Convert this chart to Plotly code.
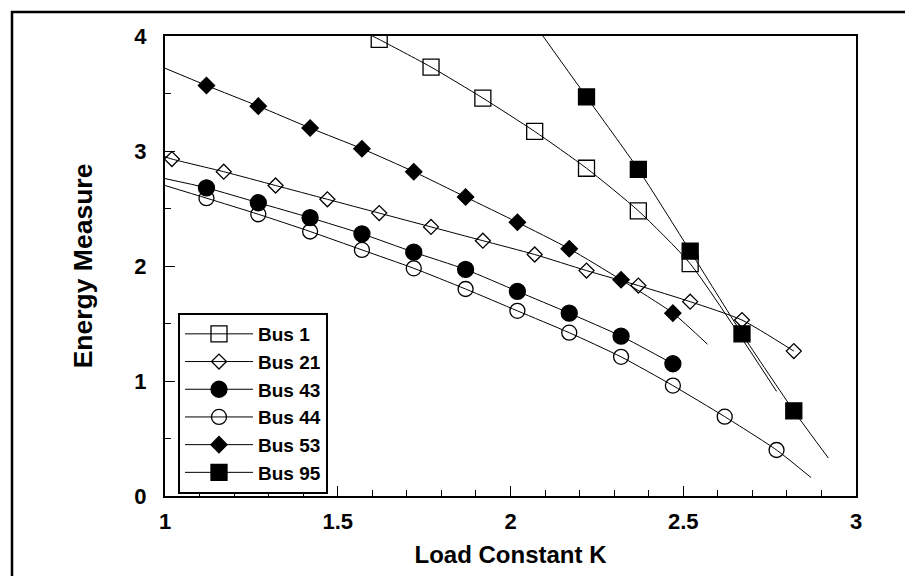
import plotly.graph_objects as go

# ---- data ----
bus1_k = [1.62, 1.77, 1.92, 2.07, 2.22, 2.37, 2.52]
bus1_e = [3.97, 3.73, 3.46, 3.17, 2.85, 2.48, 2.02]
bus1_curve_start = (1.60, 4.00)
bus1_curve_end = (2.77, 0.91)

bus21_k = [1.02, 1.17, 1.32, 1.47, 1.62, 1.77, 1.92, 2.07, 2.22, 2.37, 2.52, 2.67, 2.82]
bus21_e = [2.93, 2.82, 2.70, 2.58, 2.46, 2.34, 2.22, 2.10, 1.96, 1.83, 1.69, 1.53, 1.26]
bus21_curve_start = (1.00, 2.95)
bus21_curve_end = None

bus43_k = [1.12, 1.27, 1.42, 1.57, 1.72, 1.87, 2.02, 2.17, 2.32, 2.47]
bus43_e = [2.68, 2.55, 2.42, 2.28, 2.12, 1.97, 1.78, 1.59, 1.39, 1.15]
bus43_curve_start = (1.00, 2.76)
bus43_curve_end = None

bus44_k = [1.12, 1.27, 1.42, 1.57, 1.72, 1.87, 2.02, 2.17, 2.32, 2.47, 2.62, 2.77]
bus44_e = [2.59, 2.45, 2.30, 2.14, 1.98, 1.80, 1.61, 1.42, 1.21, 0.96, 0.69, 0.40]
bus44_curve_start = (1.00, 2.70)
bus44_curve_end = (2.87, 0.16)

bus53_k = [1.12, 1.27, 1.42, 1.57, 1.72, 1.87, 2.02, 2.17, 2.32, 2.47]
bus53_e = [3.57, 3.39, 3.20, 3.02, 2.82, 2.60, 2.38, 2.15, 1.88, 1.59]
bus53_curve_start = (1.00, 3.72)
bus53_curve_end = (2.57, 1.32)

bus95_k = [2.22, 2.37, 2.52, 2.67, 2.82]
bus95_e = [3.47, 2.84, 2.13, 1.41, 0.74]
bus95_curve_start = (2.07, 4.10)
bus95_curve_end = (2.92, 0.33)

x_ticks = [1, 1.5, 2, 2.5, 3]
y_ticks = [0, 1, 2, 3, 4]

series = [
    ("Bus 1", bus1_k, bus1_e, bus1_curve_start, bus1_curve_end, "square-open", 16),
    ("Bus 21", bus21_k, bus21_e, bus21_curve_start, bus21_curve_end, "diamond-open", 11.5),
    ("Bus 43", bus43_k, bus43_e, bus43_curve_start, bus43_curve_end, "circle", 16),
    ("Bus 44", bus44_k, bus44_e, bus44_curve_start, bus44_curve_end, "circle-open", 15),
    ("Bus 53", bus53_k, bus53_e, bus53_curve_start, bus53_curve_end, "diamond", 12.5),
    ("Bus 95", bus95_k, bus95_e, bus95_curve_start, bus95_curve_end, "square", 16),
]

FONT = "Liberation Sans, Arial, sans-serif"

fig = go.Figure()
for name, k, e, cs, ce, sym, size in series:
    cx = ([cs[0]] if cs else []) + list(k) + ([ce[0]] if ce else [])
    cy = ([cs[1]] if cs else []) + list(e) + ([ce[1]] if ce else [])
    fig.add_trace(go.Scatter(
        x=cx, y=cy, mode="lines", showlegend=False, hoverinfo="skip",
        line=dict(color="black", width=1, shape="spline", smoothing=0.6),
    ))
    fig.add_trace(go.Scatter(
        x=k, y=e, mode="markers", name=name, showlegend=False,
        marker=dict(symbol=sym, size=size, color="black",
                    line=dict(color="black", width=1.3)),
    ))

# legend entries (line + marker)
for name, k, e, cs, ce, sym, size in series:
    fig.add_trace(go.Scatter(
        x=[None], y=[None], mode="lines+markers", name=name,
        line=dict(color="black", width=1),
        marker=dict(symbol=sym, size=size, color="black",
                    line=dict(color="black", width=1.3)),
    ))

OFF = 8  # default body margin of the html page
W, H = 913 - OFF, 576 - OFF
L, R, T, B = 157, 57, 28, 80
pw, ph = W - L - R, H - T - B

def px_x(p):  # reference pixel -> paper x
    return (p - OFF - L) / pw

def px_y(p):  # reference pixel -> paper y
    return (H - B - (p - OFF)) / ph

fig.update_layout(
    width=W, height=H,
    margin=dict(l=L, r=R, t=T, b=B, autoexpand=False),
    paper_bgcolor="white", plot_bgcolor="white",
    font=dict(family=FONT, color="black"),
    showlegend=True,
    legend=dict(
        x=px_x(178), y=px_y(313), xanchor="left", yanchor="top",
        bgcolor="white", bordercolor="black", borderwidth=2,
        font=dict(family=FONT, size=19, weight="bold", color="black"),
        itemwidth=68, tracegroupgap=0,
    ),
    xaxis=dict(
        range=[1, 3], tickvals=x_ticks, ticktext=[f"{v:g}" for v in x_ticks],
        showgrid=False, zeroline=False, automargin=False,
        showline=True, linecolor="black", linewidth=2, mirror=True,
        ticks="inside", ticklen=10, tickwidth=1, tickcolor="black",
        minor=dict(dtick=0.1, ticks="inside", ticklen=6, tickwidth=1, tickcolor="black"),
        tickfont=dict(family=FONT, size=22, weight="bold"),
        ticklabelstandoff=5,
        title=dict(text="Load Constant K", standoff=13,
                   font=dict(family=FONT, size=24, weight="bold")),
    ),
    yaxis=dict(
        range=[0, 4], tickvals=y_ticks, ticktext=[str(v) for v in y_ticks],
        showgrid=False, zeroline=False, automargin=False,
        showline=True, linecolor="black", linewidth=2, mirror=True,
        ticks="inside", ticklen=10, tickwidth=1, tickcolor="black",
        minor=dict(dtick=0.5, ticks="inside", ticklen=6, tickwidth=1, tickcolor="black"),
        tickfont=dict(family=FONT, size=22, weight="bold"),
        ticklabelstandoff=12,
        title=dict(text="Energy Measure", standoff=34,
                   font=dict(family=FONT, size=26.5, weight="bold")),
    ),
    shapes=[dict(type="rect", xref="paper", yref="paper",
                 x0=px_x(12), x1=px_x(925), y0=px_y(590), y1=px_y(12),
                 line=dict(color="black", width=2.5), layer="below")],
)

fig.write_html("out.html")
